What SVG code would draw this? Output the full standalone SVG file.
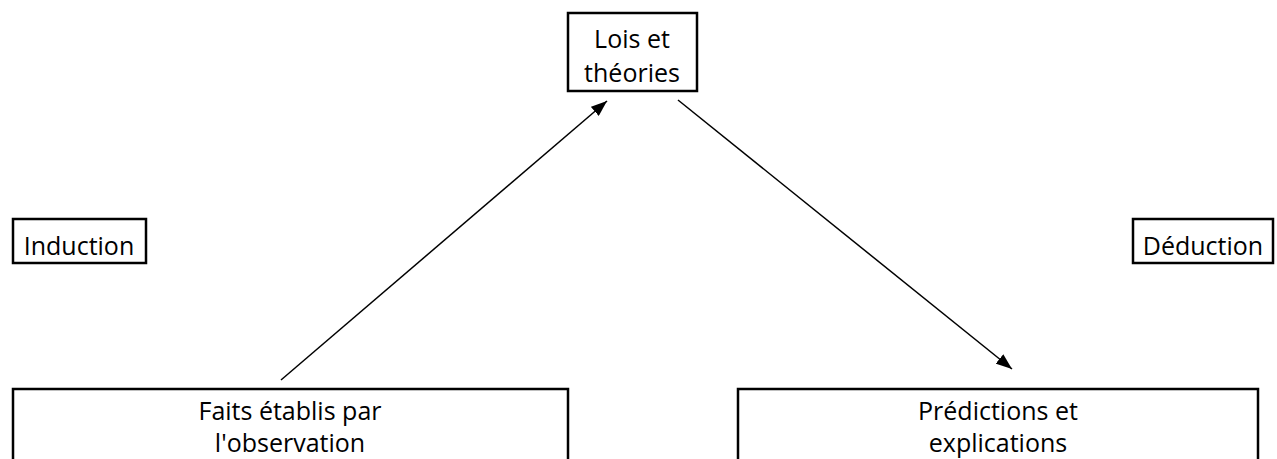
<svg xmlns="http://www.w3.org/2000/svg" width="1277" height="459" viewBox="0 0 1277 459">
<style>
.box{fill:#fff;stroke:#000;stroke-width:2.5}
.t{font-family:"Open Sans","Liberation Sans",sans-serif;font-size:25px;fill:#000;text-anchor:middle}
.c{stroke:#000;stroke-width:1.5;fill:none}
</style>
<defs>
<marker id="ah" viewBox="0 0 16 12" refX="16" refY="6" markerWidth="16" markerHeight="12" markerUnits="userSpaceOnUse" orient="auto">
<path d="M0,0 L16,6 L0,12 z" fill="#000"/>
</marker>
</defs>
<rect width="1277" height="459" fill="#fff"/>
<g id="connectors">
<line class="c" x1="281" y1="380" x2="607" y2="101" marker-end="url(#ah)"/>
<line class="c" x1="678" y1="100" x2="1012" y2="369" marker-end="url(#ah)"/>
</g>
<g id="lois">
<rect class="box" x="568" y="13" width="129" height="78"/>
<text class="t" x="632" y="48">Lois et</text>
<text class="t" x="632" y="82">théories</text>
</g>
<g id="induction">
<rect class="box" x="13" y="219" width="133" height="44"/>
<text class="t" x="79" y="255">Induction</text>
</g>
<g id="deduction">
<rect class="box" x="1133" y="219" width="140" height="44"/>
<text class="t" x="1203" y="255">Déduction</text>
</g>
<g id="faits">
<rect class="box" x="13" y="389" width="555" height="100"/>
<text class="t" x="290" y="420">Faits établis par</text>
<text class="t" x="290" y="452">l'observation</text>
</g>
<g id="predictions">
<rect class="box" x="738" y="389" width="520" height="100"/>
<text class="t" x="998" y="420">Prédictions et</text>
<text class="t" x="998" y="452">explications</text>
</g>
</svg>
